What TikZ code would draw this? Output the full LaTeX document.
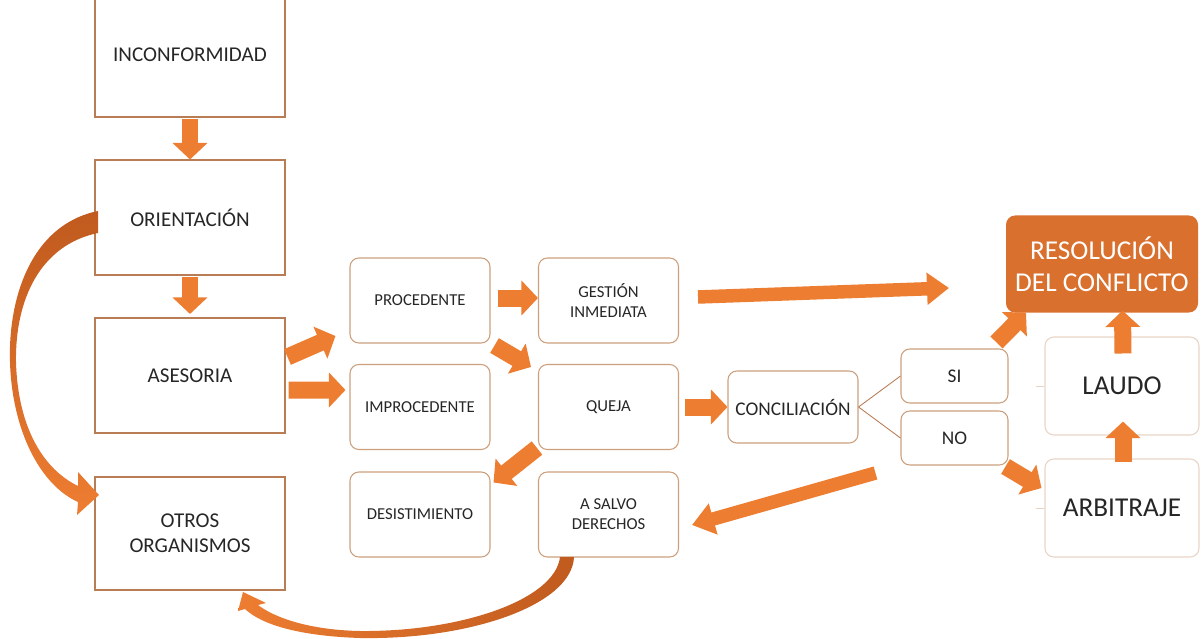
\documentclass[tikz,border=0pt]{standalone}
\usepackage{fontspec}
\setmainfont{Carlito}
\usetikzlibrary{arrows.meta}
\definecolor{naranja}{RGB}{237,125,49}
\definecolor{naranjaosc}{RGB}{192,90,30}
\definecolor{resfill}{RGB}{217,112,45}
\definecolor{borde}{RGB}{185,125,85}
\definecolor{bordesuave}{RGB}{205,160,125}
\definecolor{bordeclaro}{RGB}{232,212,198}
\definecolor{texto}{RGB}{38,38,38}

\begin{document}
\begin{tikzpicture}[x=0.02cm, y=-0.02cm,
    every node/.style={inner sep=0pt, align=center, text=texto},
    caja/.style={draw=borde, line width=0.6pt, minimum width=3.8cm, minimum height=2.3cm, font=\fontsize{12}{14.2}\selectfont},
    ficha/.style={draw=bordesuave, line width=0.6pt, rounded corners=5pt, minimum width=2.8cm, minimum height=1.7cm, font=\fontsize{9.5}{11.4}\selectfont},
    chica/.style={ficha, font=\fontsize{11}{13}\selectfont},
    grande/.style={draw=bordeclaro, line width=0.6pt, rounded corners=5pt, minimum width=3.08cm, minimum height=1.96cm, font=\fontsize{15.5}{18}\selectfont},
    flecha/.style={draw=naranja, line width=0.34cm, -{Triangle[length=0.33cm, width=0.68cm]}},
    flechalarga/.style={draw=naranja, line width=0.27cm, -{Triangle[length=0.44cm, width=0.62cm]}},
    rama/.style={draw=borde, line width=0.5pt}]
  \useasboundingbox (0,0) rectangle (1201,639);

  \node[caja, minimum height=2.48cm] (inc) at (190,55) {INCONFORMIDAD};
  \node[caja] (ori) at (190,217.5) {ORIENTACIÓN};
  \node[caja] (ase) at (190,375.5) {ASESORIA};
  \node[caja, minimum height=2.26cm] (otr) at (190,533.5) {OTROS\\ORGANISMOS};

  \node[ficha] (pro) at (420,300.5) {PROCEDENTE};
  \node[ficha] (ges) at (608.5,300.5) {GESTIÓN\\INMEDIATA};
  \node[ficha] (imp) at (420,407) {IMPROCEDENTE};
  \node[ficha] (que) at (608.5,407) {QUEJA};
  \node[ficha] (des) at (420,514.5) {DESISTIMIENTO};
  \node[ficha] (sal) at (608.5,514.5) {A SALVO\\DERECHOS};

  \node[chica, minimum width=2.6cm, minimum height=1.44cm] (con) at (793,407) {CONCILIACIÓN};
  \node[chica, minimum width=2.14cm, minimum height=1.08cm] (si) at (954.5,376) {SI};
  \node[chica, minimum width=2.14cm, minimum height=1.08cm] (no) at (954.5,438) {NO};

  \node[grande, fill=resfill, draw=resfill, text=white, minimum width=3.82cm, minimum height=1.92cm] (res) at (1102,264) {RESOLUCIÓN\\DEL CONFLICTO};
  \node[grande] (lau) at (1122,386) {LAUDO};
  \node[grande] (arb) at (1122,508) {ARBITRAJE};

  \draw[rama] (con.east) -- (si.west);
  \draw[rama] (con.east) -- (no.west);
  \draw[bordeclaro, line width=0.5pt] ([xshift=-0.16cm]lau.west) -- (lau.west);
  \draw[bordeclaro, line width=0.5pt] ([xshift=-0.16cm]arb.west) -- (arb.west);

  \draw[flecha, shorten <=1pt] (inc) -- (ori);
  \draw[flecha, shorten <=1pt, shorten >=2pt] (ori) -- (ase);
  \draw[flecha] ([shift={(2,-18.5)}]ase.east) -- ([shift={(-14,35.5)}]pro.west);
  \draw[flecha] ([shift={(3,14.5)}]ase.east) -- ([shift={(-4,-17)}]imp.west);
  \draw[flecha] ([shift={(7,-2.5)}]pro.east) -- ([shift={(0,-2.5)}]ges.west);
  \draw[flecha] ([shift={(4,2)}]pro.south east) -- ([shift={(-7,3)}]que.north west);
  \draw[flecha] ([shift={(-1,-2)}]que.south west) -- ([shift={(3,11)}]des.north east);
  \draw[flecha, shorten <=0.12cm] (que) -- (con);
  \draw[flechalarga] ([shift={(19,-3.5)}]ges.east) -- ([shift={(-57,24)}]res.west);
  \draw[flechalarga] ([shift={(-25,35)}]no.west) -- ([shift={(13,10.5)}]sal.east);
  \draw[flecha] ([shift={(-12,-6)}]si.north east) -- ([shift={(20,0)}]res.south west);
  \draw[flecha] ([shift={(-3,1)}]no.south east) -- ([shift={(-3,-20)}]arb.west);
  \draw[flecha] ([shift={(1,4)}]arb.north) -- ([shift={(1,-14)}]lau.south);
  \draw[flecha] ([shift={(1,17)}]lau.north) -- ([shift={(20.5,-2)}]res.south);

  \shade[top color=naranjaosc, bottom color=naranja]
    (98,211) .. controls (30,225) and (8,300) .. (10,362)
    .. controls (12,430) and (40,485) .. (78,502)
    -- (77,515) -- (99,495) -- (78,472) -- (78,486)
    .. controls (45,470) and (18,430) .. (16,362)
    .. controls (15,300) and (40,245) .. (98,233) -- cycle;
  \shade[left color=naranja, right color=naranjaosc]
    (574,557) .. controls (572,605) and (470,640) .. (360,638)
    .. controls (300,636) and (262,625) .. (245,609)
    -- (238,611) -- (243,592) -- (266,603) -- (258,605)
    .. controls (275,618) and (310,630) .. (360,631)
    .. controls (460,632) and (555,600) .. (560,557) -- cycle;
\end{tikzpicture}
\end{document}
